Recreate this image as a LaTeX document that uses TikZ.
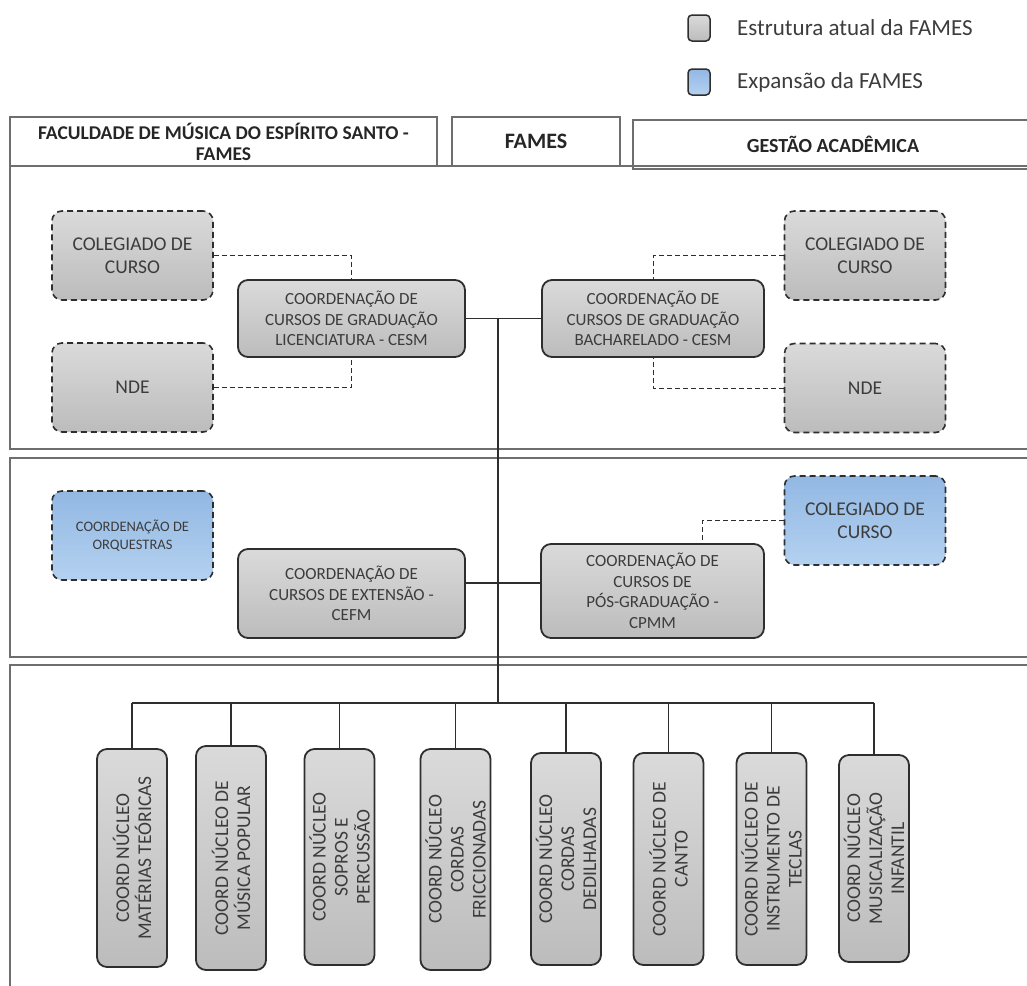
\documentclass[tikz,border=0pt]{standalone}
\usepackage{fontspec}
\setmainfont{Carlito}
\usetikzlibrary{positioning}

\definecolor{cinzaA}{HTML}{DADADA}
\definecolor{cinzaB}{HTML}{BCBCBC}
\definecolor{azulA}{HTML}{92B8E3}
\definecolor{azulB}{HTML}{B4D1F0}
\definecolor{borda}{HTML}{2E2E2E}
\definecolor{linha}{HTML}{6E6E6E}
\definecolor{texto}{HTML}{3C3C3C}

\tikzset{
  caixa/.style={draw=borda, line width=1.8pt, rounded corners=10pt,
    top color=cinzaA, bottom color=cinzaB, text=texto, align=center,
    inner sep=0pt, font=\fontsize{17}{20.5}\selectfont},
  colegiado/.style={caixa, dash pattern=on 6pt off 4pt, line width=1.6pt,
    minimum width=161pt, minimum height=89pt, font=\fontsize{19.5}{23}\selectfont},
  expansao/.style={colegiado, top color=azulA, bottom color=azulB},
  nucleo/.style={caixa, rotate=90, minimum height=70pt,
    font=\fontsize{19.5}{22}\selectfont},
  liga/.style={draw=borda, line width=1.2pt},
  ligatrac/.style={draw=borda, line width=1pt, dash pattern=on 5pt off 3pt},
  cabec/.style={draw=linha, line width=1.3pt, minimum height=49pt, inner sep=0pt,
    align=center, text=black!85, font=\bfseries\fontsize{19.5}{21}\selectfont},
  secao/.style={draw=linha, line width=1.3pt},
  legtexto/.style={anchor=west, inner sep=0pt, text=texto,
    font=\fontsize{23}{27}\selectfont},
}

\begin{document}
\begin{tikzpicture}[x=1pt,y=-1pt]
\useasboundingbox (0,0) rectangle (1027,985);

% legenda
\node[caixa, line width=1.5pt, rounded corners=4pt, minimum width=22pt, minimum height=26pt] (leg1) at (699,28) {};
\node[legtexto] (leg1txt) at (737,28) {Estrutura atual da FAMES};
\node[caixa, line width=1.5pt, rounded corners=4pt, minimum width=22pt, minimum height=26pt,
  top color=azulA, bottom color=azulB] (leg2) at (699,82) {};
\node[legtexto] (leg2txt) at (737,82) {Expansão da FAMES};

% cabecalho e faixas
\node[cabec, minimum width=427pt] (hdr1) at (223.5,141.5) {FACULDADE DE MÚSICA DO ESPÍRITO SANTO -\\FAMES};
\node[cabec, minimum width=168pt, font=\bfseries\fontsize{22}{24}\selectfont] (hdr2) at (536,141.5) {FAMES};
\node[cabec, minimum width=400pt, font=\bfseries\fontsize{20}{22}\selectfont] (hdr3) at (833,144.5) {GESTÃO ACADÊMICA};
\draw[secao] (10,166) rectangle (1035,449);
\draw[secao] (10,458) rectangle (1035,657);
\draw[secao] (10,665) rectangle (1035,995);

% graduacao
\node[colegiado] (colL) at (132.5,255.5) {COLEGIADO DE\\CURSO};
\node[colegiado] (ndeL) at (132.5,387.5) {NDE};
\node[caixa, minimum width=227pt, minimum height=77pt] (cgl) at (351.5,318.5)
  {COORDENAÇÃO DE\\CURSOS DE GRADUAÇÃO\\LICENCIATURA - CESM};
\node[caixa, minimum width=222pt, minimum height=77pt] (bach) at (653,318.5)
  {COORDENAÇÃO DE\\CURSOS DE GRADUAÇÃO\\BACHARELADO - CESM};
\node[colegiado] (colR) at (865,255.5) {COLEGIADO DE\\CURSO};
\node[colegiado] (ndeR) at (865,388) {NDE};

\draw[ligatrac] (colL.east) -| (cgl.north);
\draw[ligatrac] (ndeL.east) -| (cgl.south);
\draw[ligatrac] (colR.west) -| (bach.north);
\draw[ligatrac] (ndeR.west) -| (bach.south);
\draw[liga] (cgl.east) -- (bach.west);

% extensao e pos
\node[expansao, font=\fontsize{14.5}{18}\selectfont] (orq) at (132.5,535.5) {COORDENAÇÃO DE\\ORQUESTRAS};
\node[caixa, minimum width=227pt, minimum height=89pt] (cefm) at (351.5,593.5)
  {COORDENAÇÃO DE\\CURSOS DE EXTENSÃO -\\CEFM};
\node[caixa, minimum width=223pt, minimum height=94pt] (cpmm) at (652.5,591)
  {COORDENAÇÃO DE\\CURSOS DE\\PÓS-GRADUAÇÃO -\\CPMM};
\node[expansao] (colB) at (865,520.5) {COLEGIADO DE\\CURSO};

\draw[liga] ([yshift=10.5pt]cefm.east) -- ([yshift=10.5pt]cefm.east -| cpmm.west);
\draw[ligatrac] (colB.west) -| ([xshift=50pt]cpmm.north);

% nucleos
\coordinate (tronco) at (498,318.5);
\coordinate (barra) at (498,703);
\draw[liga] (tronco) -- (barra);

\foreach \i/\cx/\cy/\alt/\txt in {
  1/132/858/218/{COORD NÚCLEO\\MATÉRIAS TEÓRICAS},
  2/231/858/224/{COORD NÚCLEO DE\\MÚSICA POPULAR},
  3/339.5/857/216/{COORD NÚCLEO\\SOPROS E\\PERCUSSÃO},
  4/455.5/859.5/221/{COORD NÚCLEO\\CORDAS\\FRICCIONADAS},
  5/566/859/212/{COORD NÚCLEO\\CORDAS\\DEDILHADAS},
  6/668.5/859/212/{COORD NÚCLEO DE\\CANTO},
  7/771.5/859/212/{COORD NÚCLEO DE\\INSTRUMENTO DE\\TECLAS},
  8/874/858.5/207/{COORD NÚCLEO\\MUSICALIZAÇÃO\\INFANTIL}}
{
  \node[nucleo, minimum width=\alt pt] (nuc\i) at (\cx,\cy) {\txt};
  \draw[liga] (nuc\i.east) -- (nuc\i.east |- barra);
}
\draw[liga] (nuc1.east |- barra) -- (nuc8.east |- barra);

\end{tikzpicture}
\end{document}
